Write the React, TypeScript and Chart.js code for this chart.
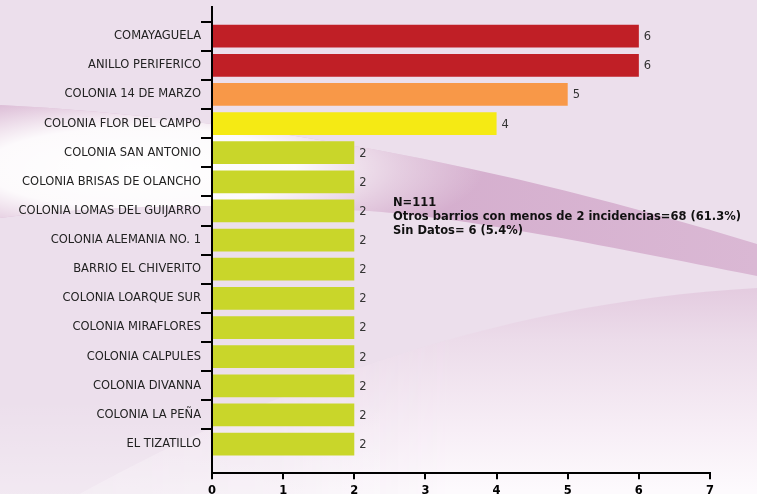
import React, { useEffect, useRef } from 'react';
import { Chart, registerables } from 'chart.js';

Chart.register(...registerables);

const categories = [
  'COMAYAGUELA',
  'ANILLO PERIFERICO',
  'COLONIA 14 DE MARZO',
  'COLONIA FLOR DEL CAMPO',
  'COLONIA SAN ANTONIO',
  'COLONIA BRISAS DE OLANCHO',
  'COLONIA LOMAS DEL GUIJARRO',
  'COLONIA ALEMANIA NO. 1',
  'BARRIO EL CHIVERITO',
  'COLONIA LOARQUE SUR',
  'COLONIA MIRAFLORES',
  'COLONIA CALPULES',
  'COLONIA DIVANNA',
  'COLONIA LA PEÑA',
  'EL TIZATILLO',
];
const values = [6, 6, 5, 4, 2, 2, 2, 2, 2, 2, 2, 2, 2, 2, 2];
const xMin = 0;
const xMax = 7;
const notes = [
  'N=111',
  'Otros barrios con menos de 2 incidencias=68 (61.3%)',
  'Sin Datos= 6 (5.4%)',
];

const FONT = "'DejaVu Sans', Verdana, sans-serif";

function colorFor(v: number): string {
  if (v >= 6) return '#C01F26';
  if (v === 5) return '#F89848';
  if (v === 4) return '#F5EA14';
  return '#C9D62A';
}

const bgPlugin = {
  id: 'bgDecor',
  beforeDraw(chart: any) {
    const { ctx, width, height } = chart;
    ctx.save();
    ctx.fillStyle = '#ECDFEC';
    ctx.fillRect(0, 0, width, height);

    // lower light sweep (drawn offscreen, faded out to the left)
    const off = document.createElement('canvas');
    off.width = width;
    off.height = height;
    const o = off.getContext('2d') as CanvasRenderingContext2D;
    o.beginPath();
    o.moveTo(0, 540);
    o.bezierCurveTo(200, 420, 450, 305, 757, 288);
    o.lineTo(757, height);
    o.lineTo(0, height);
    o.closePath();
    const g = o.createLinearGradient(0, 290, 0, 490);
    g.addColorStop(0, 'rgb(228,204,224)');
    g.addColorStop(0.25, 'rgb(236,220,234)');
    g.addColorStop(0.7, 'rgb(247,238,246)');
    g.addColorStop(1, 'rgb(253,250,253)');
    o.fillStyle = g;
    o.fill();
    o.globalCompositeOperation = 'destination-in';
    const hm = o.createLinearGradient(0, 0, width, 0);
    hm.addColorStop(0, 'rgba(0,0,0,0.15)');
    hm.addColorStop(0.35, 'rgba(0,0,0,0.5)');
    hm.addColorStop(0.6, 'rgba(0,0,0,1)');
    hm.addColorStop(1, 'rgba(0,0,0,1)');
    o.fillStyle = hm;
    o.fillRect(0, 0, width, height);
    ctx.drawImage(off, 0, 0);

    // soft lightening toward bottom-left
    const bl = ctx.createLinearGradient(0, 400, 0, 494);
    bl.addColorStop(0, 'rgba(255,255,255,0)');
    bl.addColorStop(1, 'rgba(255,255,255,0.3)');
    ctx.fillStyle = bl;
    ctx.fillRect(0, 400, 380, height - 400);

    // ribbon
    ctx.beginPath();
    ctx.moveTo(0, 105);
    ctx.bezierCurveTo(250, 118, 500, 165, 757, 244);
    ctx.lineTo(757, 276);
    ctx.bezierCurveTo(600, 245, 450, 214, 350, 210);
    ctx.bezierCurveTo(250, 203, 100, 205, 0, 218);
    ctx.closePath();
    const rg = ctx.createLinearGradient(0, 0, 757, 0);
    rg.addColorStop(0, 'rgb(206,162,198)');
    rg.addColorStop(1, 'rgb(218,184,212)');
    ctx.fillStyle = rg;
    ctx.fill();
    ctx.save();
    ctx.clip();
    ctx.translate(140, 168);
    ctx.scale(2.3, 0.6);
    const wg = ctx.createRadialGradient(0, 0, 0, 0, 0, 150);
    wg.addColorStop(0, 'rgba(255,255,255,1)');
    wg.addColorStop(0.45, 'rgba(255,255,255,0.95)');
    wg.addColorStop(0.75, 'rgba(255,255,255,0.4)');
    wg.addColorStop(1, 'rgba(255,255,255,0)');
    ctx.fillStyle = wg;
    ctx.fillRect(-200, -300, 400, 600);
    ctx.restore();
    ctx.restore();
  },
};

const labelPlugin = {
  id: 'valueLabels',
  afterDatasetsDraw(chart: any) {
    const { ctx } = chart;
    const meta = chart.getDatasetMeta(0);
    const data = chart.data.datasets[0].data;
    ctx.save();
    ctx.font = `11.5px ${FONT}`;
    ctx.fillStyle = '#333333';
    ctx.textAlign = 'left';
    ctx.textBaseline = 'middle';
    meta.data.forEach((el: any, i: number) => {
      const v = data[i];
      if (v === null || v === undefined) return;
      ctx.fillText(String(v), el.x + 5, el.y + 1);
    });
    // notes
    ctx.font = `bold 11.5px ${FONT}`;
    ctx.fillStyle = '#111111';
    notes.forEach((t, i) => {
      ctx.fillText(t, 393, 203.5 + i * 14);
    });
    ctx.restore();
  },
};

export default function App() {
  const ref = useRef<HTMLCanvasElement | null>(null);
  useEffect(() => {
    if (!ref.current) return;
    const labels = ['', ...categories, ''];
    const data = [null, ...values, null];
    const chart = new Chart(ref.current, {
      type: 'bar',
      data: {
        labels,
        datasets: [
          {
            data,
            backgroundColor: data.map((v) => (v === null ? 'transparent' : colorFor(v as number))),
            borderWidth: 0,
            categoryPercentage: 1,
            barPercentage: 0.78,
          },
        ],
      },
      options: {
        indexAxis: 'y',
        animation: false,
        responsive: false,
        maintainAspectRatio: false,
        layout: { padding: { top: 7, right: 47, left: 0, bottom: 0 } },
        plugins: { legend: { display: false }, tooltip: { enabled: false } },
        scales: {
          x: {
            type: 'linear',
            position: 'bottom',
            min: xMin,
            max: xMax,
            ticks: {
              stepSize: 1,
              color: '#000',
              padding: 5,
              font: { family: FONT, size: 11.5, weight: 'bold' },
            },
            grid: {
              drawOnChartArea: false,
              drawTicks: true,
              tickLength: 6,
              color: '#000',
              lineWidth: 2,
            },
            border: { display: true, color: '#000', width: 2 },
          },
          y: {
            type: 'category',
            offset: false,
            ticks: {
              color: '#222',
              padding: 0,
              autoSkip: false,
              font: { family: FONT, size: 11.5 },
            },
            grid: {
              offset: true,
              drawOnChartArea: false,
              drawTicks: true,
              tickLength: 11,
              lineWidth: 2,
              color: (c: any) => (c.index >= labels.length - 1 ? 'rgba(0,0,0,0)' : '#000'),
            },
            border: { display: true, color: '#000', width: 2 },
            afterFit: (s: any) => {
              s.width = 212;
            },
          },
        },
      } as any,
      plugins: [bgPlugin, labelPlugin],
    });
    return () => chart.destroy();
  }, []);
  return (
    <div style={{ position: 'fixed', left: 0, top: 0, width: 757, height: 494, overflow: 'hidden' }}>
      <canvas ref={ref} width={757} height={503} style={{ display: 'block' }} />
    </div>
  );
}
